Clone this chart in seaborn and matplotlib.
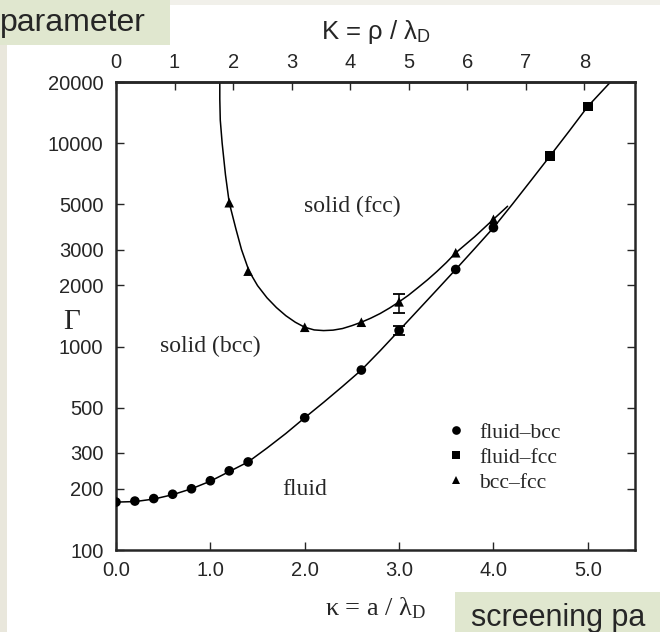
import numpy as np
import pandas as pd
import matplotlib
matplotlib.use("Agg")
import matplotlib.pyplot as plt
from matplotlib.patches import Rectangle
from matplotlib.ticker import FixedLocator, NullLocator
import seaborn as sns

# ---------------- data ----------------
fb_kappa = [0.0, 0.2, 0.4, 0.6, 0.8, 1.0, 1.2, 1.4, 2.0, 2.6, 3.0, 3.6, 4.0]
fb_gamma = [172, 174, 179, 188, 200, 219, 245, 271, 447, 767, 1200, 2395, 3843]
ff_kappa = [4.6, 5.0]
ff_gamma = [8660, 15170]
bf_kappa = [1.2, 1.4, 2.0, 2.6, 3.0, 3.6, 4.0]
bf_gamma = [5100, 2350, 1245, 1318, 1660, 2894, 4224]

err_kappa = [3.0, 3.0]
err_gamma = [1660, 1200]
err_low = [1470, 1135]
err_high = [1820, 1260]

fluid_curve_kappa = [0.0, 0.2, 0.4, 0.6, 0.8, 1.0, 1.2, 1.4, 1.6, 1.8, 2.0, 2.2, 2.4,
                     2.6, 2.8, 3.0, 3.2, 3.4, 3.6, 3.8, 4.0, 4.2, 4.4, 4.6, 4.8, 5.0, 5.3]
fluid_curve_gamma = [172, 173, 178, 187, 200, 218, 243, 271, 317, 374, 447, 532, 637,
                     767, 955, 1200, 1510, 1900, 2395, 3030, 3843, 5010, 6580, 8660,
                     11430, 15170, 21400]

bccfcc_curve_kappa = [1.10, 1.10, 1.105, 1.125, 1.16, 1.20, 1.27, 1.33, 1.41, 1.5, 1.6,
                      1.7, 1.8, 1.9, 2.0, 2.1, 2.2, 2.3, 2.4, 2.5, 2.6, 2.7, 2.8, 2.9,
                      3.0, 3.1, 3.2, 3.3, 3.4, 3.5, 3.6, 3.8, 4.0, 4.15]
bccfcc_curve_gamma = [20000, 16500, 13000, 10000, 7000, 5100, 3800, 3000, 2350, 1995, 1738,
                      1556, 1419, 1318, 1245, 1208, 1199, 1205, 1227, 1268, 1318, 1380,
                      1455, 1549, 1660, 1790, 1950, 2128, 2339, 2588, 2891, 3467, 4227, 4900]

y_ticks = [100, 200, 300, 500, 1000, 2000, 3000, 5000, 10000, 20000]
y_ticklabels = ["100", "200", "300", "500", "1000", "2000", "3000", "5000", "10000", "20000"]
x_ticks = [0, 1, 2, 3, 4, 5]
x_ticklabels = ["0.0", "1.0", "2.0", "3.0", "4.0", "5.0"]
K_ticks = [0, 1, 2, 3, 4, 5, 6, 7, 8]
K_ticklabels = ["0", "1", "2", "3", "4", "5", "6", "7", "8"]
K_factor = (4 * np.pi / 3) ** (1 / 3)

series_names = ["fluid\u2013bcc", "fluid\u2013fcc", "bcc\u2013fcc"]

# ---------------- figure ----------------
sns.set_style("ticks")
plt.rcParams["font.family"] = ["Liberation Sans", "DejaVu Sans"]
plt.rcParams["mathtext.fontset"] = "custom"
plt.rcParams["mathtext.rm"] = "Liberation Serif"
plt.rcParams["mathtext.it"] = "Liberation Serif:italic"

fig = plt.figure(figsize=(6.6, 6.32), dpi=100)
fig.patch.set_facecolor("white")
ax = fig.add_axes([116 / 660, 1 - 550 / 632, (635 - 116) / 660, (550 - 82) / 632])

# curves
curve_df = pd.DataFrame({"kappa": fluid_curve_kappa, "gamma": fluid_curve_gamma})
sns.lineplot(data=curve_df, x="kappa", y="gamma", sort=False, estimator=None,
             color="black", linewidth=1.1, ax=ax)
curve_df2 = pd.DataFrame({"kappa": bccfcc_curve_kappa, "gamma": bccfcc_curve_gamma})
sns.lineplot(data=curve_df2, x="kappa", y="gamma", sort=False, estimator=None,
             color="black", linewidth=1.1, ax=ax)

# points
pts = pd.DataFrame({
    "kappa": fb_kappa + ff_kappa + bf_kappa,
    "gamma": fb_gamma + ff_gamma + bf_gamma,
    "type": [series_names[0]] * len(fb_kappa) + [series_names[1]] * len(ff_kappa)
            + [series_names[2]] * len(bf_kappa),
})
sns.scatterplot(data=pts, x="kappa", y="gamma", style="type",
                markers={series_names[0]: "o", series_names[1]: "s", series_names[2]: "^"},
                style_order=series_names, color="black", s=48, edgecolor="black",
                linewidth=0, ax=ax, zorder=3)

# error bars
yerr = [np.array(err_gamma) - np.array(err_low), np.array(err_high) - np.array(err_gamma)]
ax.errorbar(err_kappa, err_gamma, yerr=yerr, fmt="none", ecolor="black",
            elinewidth=1.1, capsize=4, capthick=1.3, zorder=2)

ax.set_yscale("log")
ax.set_xlim(0, 5.5)
ax.set_ylim(100, 20000)
ax.yaxis.set_major_locator(FixedLocator(y_ticks))
ax.yaxis.set_minor_locator(NullLocator())
ax.set_yticklabels(y_ticklabels)
ax.set_xticks(x_ticks)
ax.set_xticklabels(x_ticklabels)
ax.tick_params(axis="both", which="major", direction="in", length=6, width=1.0,
               labelsize=14.5, pad=8, top=False, right=True)
ax.tick_params(axis="y", pad=9)
for sp in ax.spines.values():
    sp.set_linewidth(1.8)
    sp.set_visible(True)

ax.set_xlabel(r"$\mathrm{\kappa}$ = a / $\mathrm{\lambda_D}$", family="Liberation Serif",
              fontsize=19, labelpad=11)
ax.set_ylabel("\u0393", family="Liberation Serif", fontsize=21, rotation=0, va="center",
              ha="center")
ax.yaxis.set_label_coords(-0.085, 0.487)

# top axis
sec = ax.secondary_xaxis("top", functions=(lambda k: k * K_factor, lambda K: K / K_factor))
sec.set_xticks(K_ticks)
sec.set_xticklabels(K_ticklabels)
sec.tick_params(direction="in", length=6, width=1.0, labelsize=14.5, pad=7)
sec.spines["top"].set_linewidth(1.8)
sec.set_xlabel("K = \u03c1 / \u03bb$_\\mathregular{D}$", fontsize=18.5, labelpad=10)

# region labels
ax.text(2.5, 4900, "solid (fcc)", family="Liberation Serif", fontsize=17, ha="center", va="center")
ax.text(1.0, 1000, "solid (bcc)", family="Liberation Serif", fontsize=17, ha="center", va="center")
ax.text(2.0, 198, "fluid", family="Liberation Serif", fontsize=17, ha="center", va="center")

# legend
leg = ax.legend(loc="upper left", bbox_to_anchor=(0.617, 0.29), frameon=False,
                prop={"family": "Liberation Serif", "size": 15.5}, handlelength=1.0,
                handletextpad=0.6, labelspacing=0.22, markerscale=0.9, borderaxespad=0)
for h in leg.legend_handles:
    h.set_color("black")

# slide decorations
fig.add_artist(Rectangle((0, 0), 7 / 660, 1 - 45 / 632, transform=fig.transFigure,
                         facecolor="#e9e7dc", edgecolor="none", zorder=0))
fig.add_artist(Rectangle((170 / 660, 1 - 5 / 632), 490 / 660, 5 / 632, transform=fig.transFigure,
                         facecolor="#f1f0ea", edgecolor="none", zorder=0))
fig.add_artist(Rectangle((0, 1 - 45 / 632), 170 / 660, 45 / 632, transform=fig.transFigure,
                         facecolor="#e0e7cf", edgecolor="none", zorder=1))
fig.text(0 / 660, 1 - 31 / 632, "parameter", fontsize=23, va="baseline", ha="left", zorder=2)
fig.add_artist(Rectangle((455 / 660, 0), 205 / 660, 40 / 632, transform=fig.transFigure,
                         facecolor="#e0e7cf", edgecolor="none", zorder=1))
fig.text(471 / 660, 1 - 626 / 632, "screening pa", fontsize=22, va="baseline", ha="left", zorder=2)

fig.savefig("out.png", dpi=100)
